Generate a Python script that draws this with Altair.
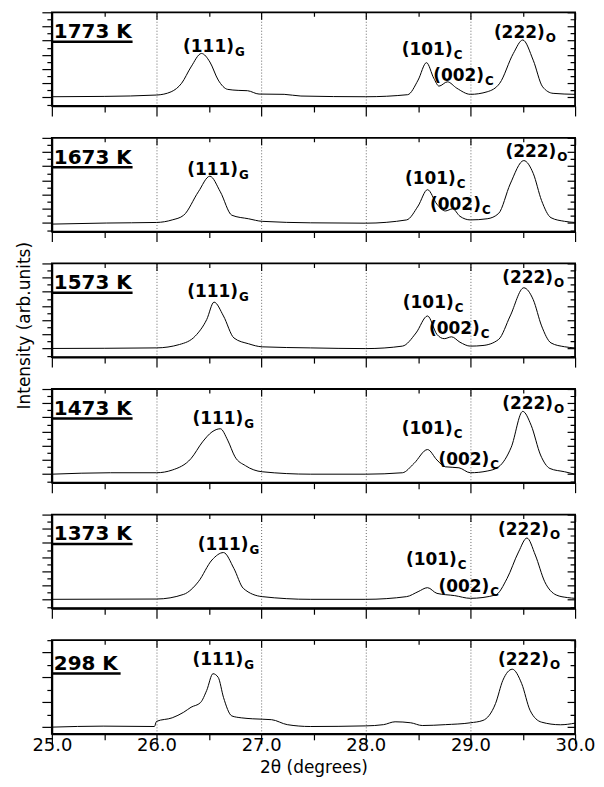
import altair as alt
import pandas as pd

FONT = "DejaVu Sans"
W, H = 525, 94

temperatures = ["1773 K", "1673 K", "1573 K", "1473 K", "1373 K", "298 K"]

x_ticks = [25.0, 25.5, 26.0, 26.5, 27.0, 27.5, 28.0, 28.5, 29.0, 29.5, 30.0]
y_ticks_hot = [0, 1, 2, 3, 4, 5, 6, 7, 8, 9, 10, 11, 12, 13]
y_ticks_rt = [0, 1, 2, 3, 4, 5, 6, 7]

tt_1773 = [25.0, 25.5, 26.0, 26.14, 26.24, 26.33, 26.43, 26.51, 26.59, 26.68, 26.78, 26.87, 26.98,
           27.22, 27.38, 28.0, 28.4, 28.5, 28.58, 28.65, 28.7, 28.78, 28.87, 29.0, 29.16, 29.28,
           29.41, 29.5, 29.6, 29.69, 29.79, 30.0]
int_1773 = [1.1, 1.15, 1.34, 1.8, 3.0, 5.3, 7.2, 6.0, 3.45, 2.14, 2.0, 1.95, 1.48,
            1.44, 1.2, 1.1, 1.39, 3.45, 5.9, 3.7, 2.6, 3.2, 2.3, 1.44, 1.8, 3.0,
            7.2, 9.1, 6.25, 2.5, 1.58, 1.44]

tt_1673 = [25.0, 25.52, 26.0, 26.15, 26.26, 26.4, 26.51, 26.61, 26.72, 26.88, 27.01, 27.47, 28.0,
           28.39, 28.5, 28.59, 28.68, 28.76, 28.83, 28.9, 29.0, 29.16, 29.27, 29.38, 29.51, 29.6,
           29.68, 29.77, 29.9, 30.0]
int_1673 = [0.85, 1.0, 1.08, 1.44, 2.1, 5.4, 7.6, 5.4, 2.1, 1.6, 1.24, 1.03, 0.98,
            1.44, 3.4, 5.7, 3.65, 2.7, 3.0, 1.95, 1.44, 1.6, 2.36, 6.5, 9.8, 8.0,
            4.16, 1.75, 1.24, 1.08]

tt_1573 = [25.0, 26.0, 26.22, 26.37, 26.48, 26.55, 26.64, 26.74, 26.88, 27.01, 27.47, 28.0, 28.35,
           28.48, 28.59, 28.68, 28.75, 28.82, 28.9, 29.0, 29.12, 29.27, 29.38, 29.51, 29.6, 29.68,
           29.77, 29.9, 30.0]
int_1573 = [1.02, 1.1, 1.58, 2.76, 5.1, 7.55, 5.6, 2.5, 1.68, 1.25, 1.1, 1.0, 1.35,
            3.2, 5.6, 3.0, 2.4, 2.66, 1.9, 1.35, 1.44, 2.3, 5.6, 9.57, 7.9, 4.2,
            1.8, 1.26, 1.1]

tt_1473 = [25.0, 25.56, 26.0, 26.15, 26.33, 26.44, 26.53, 26.61, 26.68, 26.75, 26.85, 27.01, 27.47,
           28.0, 28.35, 28.46, 28.59, 28.68, 28.76, 28.89, 29.0, 29.16, 29.27, 29.39, 29.5, 29.58,
           29.67, 29.76, 29.9, 30.0]
int_1473 = [1.0, 1.2, 1.2, 1.58, 3.2, 5.55, 6.95, 7.4, 5.8, 3.45, 2.2, 1.34, 1.0,
            1.0, 1.2, 2.5, 4.47, 3.0, 2.04, 1.9, 1.2, 1.44, 2.04, 4.8, 9.85, 7.9,
            3.7, 1.8, 1.34, 1.0]

tt_1373 = [25.0, 26.0, 26.26, 26.4, 26.53, 26.64, 26.74, 26.83, 27.01, 27.47, 28.0, 28.39, 28.5,
           28.59, 28.68, 28.85, 29.0, 29.24, 29.35, 29.46, 29.54, 29.62, 29.71, 29.82, 29.93, 30.0]
int_1373 = [1.06, 1.1, 1.76, 3.54, 6.6, 7.65, 5.4, 2.6, 1.44, 1.06, 1.06, 1.44, 2.14,
            2.7, 1.9, 1.58, 1.2, 1.67, 4.0, 7.74, 9.7, 7.3, 3.54, 1.67, 1.3, 1.2]

tt_298 = [25.0, 25.49, 25.98, 26.0, 26.15, 26.26, 26.33, 26.42, 26.48, 26.54, 26.59, 26.64, 26.72,
          26.81, 26.92, 27.1, 27.25, 27.47, 28.0, 28.17, 28.28, 28.43, 28.54, 28.76, 29.0, 29.12,
          29.24, 29.31, 29.4, 29.49, 29.57, 29.68, 29.86, 30.0]
int_298 = [0.0, 0.08, 0.05, 0.46, 0.75, 1.2, 1.6, 1.97, 2.96, 4.3, 4.0, 2.4, 0.9,
           0.75, 0.67, 0.6, 0.2, 0.05, 0.1, 0.2, 0.43, 0.35, 0.13, 0.2, 0.35, 0.54,
           1.9, 3.77, 4.66, 3.5, 1.35, 0.4, 0.19, 0.32]

# peak label anchors: (label, subscript, 2theta at end of label, intensity at baseline)
peaks_1773 = [("(111)", "G", 26.74, 7.4), ("(101)", "C", 28.83, 7.0),
              ("(002)", "C", 29.13, 3.3), ("(222)", "O", 29.71, 9.35)]
peaks_1673 = [("(111)", "G", 26.78, 7.8), ("(101)", "C", 28.86, 6.5),
              ("(002)", "C", 29.1, 2.9), ("(222)", "O", 29.82, 10.3)]
peaks_1573 = [("(111)", "G", 26.78, 8.3), ("(101)", "C", 28.84, 6.75),
              ("(002)", "C", 29.09, 3.0), ("(222)", "O", 29.79, 10.3)]
peaks_1473 = [("(111)", "G", 26.83, 8.1), ("(101)", "C", 28.83, 6.7),
              ("(002)", "C", 29.18, 2.3), ("(222)", "O", 29.79, 10.2)]
peaks_1373 = [("(111)", "G", 26.88, 8.0), ("(101)", "C", 28.87, 5.9),
              ("(002)", "C", 29.18, 2.14), ("(222)", "O", 29.75, 10.1)]
peaks_298 = [("(111)", "G", 26.83, 5.0), ("(222)", "O", 29.75, 5.0)]

series = [
    ("1773 K", tt_1773, int_1773, peaks_1773),
    ("1673 K", tt_1673, int_1673, peaks_1673),
    ("1573 K", tt_1573, int_1573, peaks_1573),
    ("1473 K", tt_1473, int_1473, peaks_1473),
    ("1373 K", tt_1373, int_1373, peaks_1373),
    ("298 K", tt_298, int_298, peaks_298),
]

MINOR_X = "datum.value % 1 !== 0"


def make_panel(idx, name, xs, ys, peaks):
    last = idx == len(series) - 1
    df = pd.DataFrame({"two_theta": xs, "intensity": ys})
    if last:
        ydom, yticks, minor_y = [-0.54, 7], y_ticks_rt, "datum.value % 2 === 1"
    else:
        ydom, yticks, minor_y = [-0.2, 13], y_ticks_hot, "datum.value % 2 === 0"
    xsc = alt.Scale(domain=[25, 30], nice=False, zero=False)
    ysc = alt.Scale(domain=ydom, nice=False, zero=False)

    bottom = dict(
        orient="bottom", values=x_ticks,
        tickSize={"condition": {"test": MINOR_X, "value": 6}, "value": 10},
        tickColor="black", tickWidth=1.2, domainColor="black", domainWidth=1.8,
        grid=True, gridColor="#444444", gridDash=[1, 2], gridWidth=0.8,
        gridOpacity={"condition": {"test": MINOR_X + " || datum.value <= 25 || datum.value >= 30",
                                   "value": 0}, "value": 1},
    )
    if last:
        bottom.update(
            labels=True, labelFlush=False,
            labelExpr="datum.value % 1 !== 0 ? '' : format(datum.value, '.1f')",
            labelFont=FONT, labelFontSize=18, labelColor="black", labelPadding=-7,
            title="2θ (degrees)", titleFont=FONT, titleFontSize=17,
            titleFontWeight="normal", titleColor="black", titlePadding=5,
        )
    else:
        bottom.update(labels=False, title=None)

    left = dict(
        orient="left", values=yticks, labels=False, grid=False,
        tickSize={"condition": {"test": minor_y, "value": 5}, "value": 10},
        tickColor="black", tickWidth=1.2, domainColor="black", domainWidth=1.8,
    )
    if idx == 2:
        left.update(title="Intensity (arb.units)", titleFont=FONT, titleFontSize=17,
                    titleFontWeight="normal", titleColor="black", titleX=-22,
                    titleY=62, titleBaseline="alphabetic", titleAlign="center")
    else:
        left.update(title=None)

    top = alt.Axis(orient="top", values=x_ticks, labels=False, domain=False, grid=False,
                   offset=-7, tickSize=7, tickColor="black", tickWidth=1.2,
                   tickDash={"condition": {"test": MINOR_X, "value": [0, 3, 4, 50]},
                             "value": [20, 0]}, title=None)
    right = alt.Axis(orient="right", values=yticks, labels=False, domain=False, grid=False,
                     offset=-8, tickSize=8, tickColor="black", tickWidth=1.2,
                     tickDash={"condition": {"test": minor_y, "value": [0, 3, 5, 50]},
                               "value": [20, 0]}, title=None)

    line = alt.Chart(df).mark_line(color="black", strokeWidth=1, interpolate="monotone").encode(
        x=alt.X("two_theta:Q", scale=xsc, axis=alt.Axis(**bottom)),
        y=alt.Y("intensity:Q", scale=ysc, axis=alt.Axis(**left)),
    )
    mirror = alt.Chart(df).mark_line(opacity=0).encode(
        x=alt.X("two_theta:Q", scale=xsc, axis=top),
        y=alt.Y("intensity:Q", scale=ysc, axis=right),
    )

    pdf = pd.DataFrame(peaks, columns=["main", "sub", "x", "y"])
    main = alt.Chart(pdf).mark_text(align="right", baseline="alphabetic", font=FONT,
                                    fontSize=17, fontWeight="bold", color="black").encode(
        x=alt.X("x:Q", scale=xsc, axis=None),
        y=alt.Y("y:Q", scale=ysc, axis=None),
        text="main:N",
    )
    sub = alt.Chart(pdf).mark_text(align="left", baseline="alphabetic", font=FONT, dx=1, dy=4,
                                   fontSize=12, fontWeight="bold", color="black").encode(
        x=alt.X("x:Q", scale=xsc, axis=None),
        y=alt.Y("y:Q", scale=ysc, axis=None),
        text="sub:N",
    )

    tdf = pd.DataFrame({"t": [name]})
    ty = 30 if last else 26
    ulen = 69 if len(name) == 5 else 81
    tlabel = alt.Chart(tdf).mark_text(align="left", baseline="alphabetic", font=FONT,
                                      fontSize=20, fontWeight="bold", color="black").encode(
        x=alt.value(2), y=alt.value(ty), text="t:N")
    uline = alt.Chart(tdf).mark_rule(color="black", strokeWidth=2.5).encode(
        x=alt.value(0), x2=alt.value(ulen), y=alt.value(ty + 3.5))

    return alt.layer(line, mirror, main, sub, tlabel, uline).resolve_axis(
        x="independent", y="independent").properties(width=W, height=H)


panels = [make_panel(i, *s) for i, s in enumerate(series)]

chart = alt.vconcat(*panels, spacing=32, bounds="flush").configure_view(
    stroke="black", strokeWidth=1.8
).properties(
    padding={"left": 7, "top": 1, "right": 0, "bottom": 0},
    background="white",
)

chart.save("out.html", embed_options={"renderer": "svg", "actions": False})
